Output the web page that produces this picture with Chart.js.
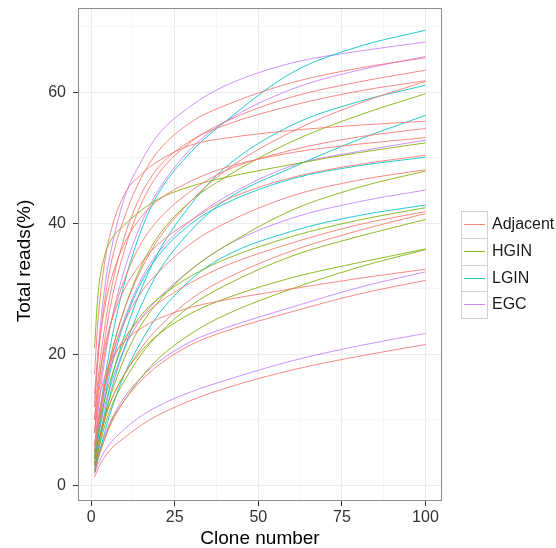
<!DOCTYPE html>
<html>
<head>
<meta charset="utf-8">
<script src="https://cdn.jsdelivr.net/npm/chart.js@4.4.1/dist/chart.umd.min.js"></script>
<style>
  body { margin: 0; background: #fff; font-family: "Liberation Sans", Arial, sans-serif; }
  #quadro { position: relative; width: 556px; height: 548px; }
  #quadro canvas { position: absolute; left: 0; top: 0; }
  .chave { position: absolute; left: 461px; width: 27px; height: 28px; box-sizing: border-box; border: 1px solid #d0d0d0; background: #fff; }
  .chave span { position: absolute; left: 2px; right: 2px; top: 12px; height: 1px; opacity: 0.9; }
  .rotulo { position: absolute; left: 492px; font-size: 16px; color: #1a1a1a; line-height: 18px; }
</style>
</head>
<body>
<div id="quadro">
  <canvas id="grafico-curvas" width="556" height="548"></canvas>
</div>
<script>
// numero do clone onde cada curva foi lida
const clones = [1, 2, 4, 6, 10, 15, 20, 30, 40, 60, 80, 100];
const grupos = ['Adjacent', 'HGIN', 'LGIN', 'EGC'];
const coresGrupo = ['#F8766D', '#7CAE00', '#00BFC4', '#C77CFF'];
const ticksX = [0, 25, 50, 75, 100];
const ticksY = [0, 20, 40, 60];

// % acumulado de reads por amostra
const adjacent = [
  [12, 19, 28, 34, 41, 47, 51, 55.5, 58, 61.5, 63.7, 65.3],
  [8, 14, 22, 28, 36, 43, 47.5, 52.5, 55.5, 59.3, 61.6, 63.4],
  [10, 16, 24, 30, 38, 44.5, 48.5, 52.7, 55, 58, 60.2, 61.8],
  [5, 9, 15, 20, 27, 33, 37.5, 43.5, 48, 54, 58.3, 61.7],
  [17, 25, 34, 39, 44.5, 47.5, 49.5, 52, 53, 54.2, 55, 55.6],
  [8, 13, 20, 25, 31.5, 37, 40.5, 45, 48, 51.2, 53.2, 54.5],
  [14, 20, 27, 31.5, 37, 41, 43.5, 46.5, 48.5, 50.8, 52.1, 53.1],
  [10, 15, 21, 25, 30, 34, 36.8, 40.5, 43.5, 47, 49, 50.4],
  [5, 9, 15, 19.5, 25, 29.5, 32.5, 37, 40, 44.2, 46.6, 48.2],
  [6, 10, 15, 18.5, 22.5, 25.5, 27.8, 31, 33.5, 37, 39.8, 41.8],
  [3, 6, 10, 13, 17, 21, 24, 28.5, 31.5, 35.8, 38.9, 41.5],
  [8, 12, 16.5, 19.2, 22, 24, 25.4, 27.2, 28.3, 30, 31.6, 33],
  [2, 4, 7, 9.5, 13, 16, 18.3, 21.5, 23.5, 26.5, 29.2, 31.3],
  [1.2, 2.5, 4.3, 5.6, 7.3, 9.2, 10.7, 13, 14.8, 17.6, 19.7, 21.5]
];
const hgin = [
  [5, 9, 15, 20, 27, 33.5, 38, 43.5, 47, 52.5, 56.5, 59.8],
  [21, 29, 35, 37.5, 39.8, 42, 43.7, 45.7, 47, 49, 50.8, 52.3],
  [3, 6, 10.5, 14, 19.5, 24.5, 28, 33, 36.5, 42, 45.5, 48],
  [4, 8, 13, 16.5, 22, 26, 28.5, 32, 34.5, 38, 40.5, 42.4],
  [3, 5, 9, 12, 16, 20, 23, 27.5, 30.5, 35, 38, 40.6],
  [3, 6, 10, 13, 17, 20.5, 23, 26.3, 28.5, 31.7, 34, 36.1],
  [2, 4, 7, 9.8, 13, 16.5, 19.3, 23.2, 26, 30, 33.3, 36]
];
const lgin = [
  [4, 9, 16, 22, 31, 39, 44.5, 51, 55.5, 63, 67, 69.5],
  [3, 6, 11, 16, 23, 30, 35.5, 43, 48.5, 55, 58.6, 61.1],
  [2, 5, 10, 14.5, 21, 27.5, 32.5, 39, 43.5, 48.5, 52.8, 56.5],
  [3, 7, 13, 18, 25, 31, 35, 40, 43, 46.8, 48.8, 50.1],
  [2, 4, 8, 11.5, 17, 22, 26, 31.5, 35, 38.8, 41.2, 42.8]
];
const egc = [
  [12, 20, 30, 36, 44, 49.5, 53.5, 58, 61, 64.5, 66.3, 67.7],
  [6, 11, 19, 25, 33, 40, 45, 51.5, 55.5, 60.5, 63.4, 65.5],
  [4, 8, 14, 19, 25.5, 31.5, 35.5, 40.5, 44, 48.8, 51, 52.7],
  [4, 7, 12, 15.5, 21, 25.5, 28.5, 33, 36.5, 40.8, 43.3, 45.1],
  [2.5, 4.5, 7.5, 10, 13.5, 16.5, 18.8, 22, 24, 27.2, 30.2, 32.6],
  [1.8, 3.2, 5.2, 6.6, 8.6, 10.6, 12.1, 14.3, 16, 19, 21.3, 23.2]
];

document.addEventListener('DOMContentLoaded', function () {
  const amostras = [adjacent, hgin, lgin, egc];
  const datasets = [];
  amostras.forEach((lista, g) => {
    lista.forEach(serie => {
      datasets.push({
        label: grupos[g],
        data: clones.map((c, i) => ({ x: c, y: serie[i] })),
        borderColor: coresGrupo[g] + 'd9',
        borderWidth: 1,
        pointRadius: 0,
        fill: false,
        cubicInterpolationMode: 'monotone'
      });
    });
  });

  // linhas menores da grade no meio das maiores
  const comMenores = (maiores) => {
    const passo = maiores[1] - maiores[0];
    const t = [];
    maiores.forEach(v => { t.push(v); t.push(v + passo / 2); });
    return t;
  };
  const todosX = comMenores(ticksX).filter(v => v <= 104);
  const todosY = comMenores(ticksY).filter(v => v <= 72);

  const fonte = "'Liberation Sans', Arial, sans-serif";

  const bordaPainel = {
    id: 'bordaPainel',
    afterDatasetsDraw(chart) {
      const { ctx, chartArea: a } = chart;
      ctx.save();
      ctx.strokeStyle = '#8c8c8c';
      ctx.lineWidth = 1;
      ctx.strokeRect(a.left + 0.5, a.top + 0.5, a.width - 1, a.height - 1);
      ctx.restore();
    }
  };

  // titulo do eixo y desenhado a mao para acertar a altura
  const tituloY = {
    id: 'tituloY',
    afterDraw(chart) {
      const { ctx } = chart;
      ctx.save();
      ctx.translate(24.5, 261);
      ctx.rotate(-Math.PI / 2);
      ctx.fillStyle = '#000';
      ctx.font = '19px ' + fonte;
      ctx.textAlign = 'center';
      ctx.textBaseline = 'middle';
      ctx.fillText('Total reads(%)', 0, 0);
      ctx.restore();
    }
  };

  const ctx = document.getElementById('grafico-curvas').getContext('2d');
  window.graficoCurvas = new Chart(ctx, {
    type: 'line',
    data: { datasets: datasets },
    plugins: [bordaPainel, tituloY],
    options: {
      responsive: false,
      animation: false,
      layout: { padding: { top: 8, right: 114, bottom: 0, left: 0 } },
      plugins: { legend: { display: false }, tooltip: { enabled: false } },
      scales: {
        x: {
          type: 'linear', min: -3.95, max: 104.95,
          afterBuildTicks: (s) => { s.ticks = todosX.map(v => ({ value: v })); },
          afterFit: (s) => { s.height = 47; s.paddingLeft = 0; s.paddingRight = 0; },
          border: { display: false },
          grid: {
            color: (c) => ticksX.includes(c.tick.value) ? '#ebebeb' : '#f5f5f5',
            tickColor: (c) => ticksX.includes(c.tick.value) ? '#333333' : 'rgba(0,0,0,0)',
            tickLength: 5
          },
          ticks: {
            autoSkip: false, maxRotation: 0, padding: 2, color: '#333333',
            font: { family: fonte, size: 16 },
            callback: (v) => ticksX.includes(v) ? String(v) : ''
          },
          title: { display: true, text: 'Clone number', color: '#000', font: { family: fonte, size: 19, lineHeight: 1 }, padding: { top: 0, bottom: 0 } }
        },
        y: {
          type: 'linear', min: -2.4, max: 72.9,
          afterBuildTicks: (s) => { s.ticks = todosY.map(v => ({ value: v })); },
          afterFit: (s) => { s.width = 78; s.paddingTop = 0; s.paddingBottom = 0; },
          border: { display: false },
          grid: {
            color: (c) => ticksY.includes(c.tick.value) ? '#ebebeb' : '#f5f5f5',
            tickColor: (c) => ticksY.includes(c.tick.value) ? '#333333' : 'rgba(0,0,0,0)',
            tickLength: 5
          },
          ticks: {
            autoSkip: false, padding: 7, color: '#333333',
            font: { family: fonte, size: 16 },
            callback: (v) => ticksY.includes(v) ? String(v) : ''
          },
          title: { display: false }
        }
      }
    }
  });

  // legenda em html, uma chave por grupo
  const quadro = document.getElementById('quadro');
  grupos.forEach((nome, i) => {
    const topo = Math.round(211 + i * 26.8);
    const chave = document.createElement('div');
    chave.className = 'chave';
    chave.style.top = topo + 'px';
    const traco = document.createElement('span');
    traco.style.background = coresGrupo[i];
    chave.appendChild(traco);
    quadro.appendChild(chave);
    const rotulo = document.createElement('div');
    rotulo.className = 'rotulo';
    rotulo.style.top = (topo + 4) + 'px';
    rotulo.textContent = nome;
    quadro.appendChild(rotulo);
  });
});
</script>
</body>
</html>
